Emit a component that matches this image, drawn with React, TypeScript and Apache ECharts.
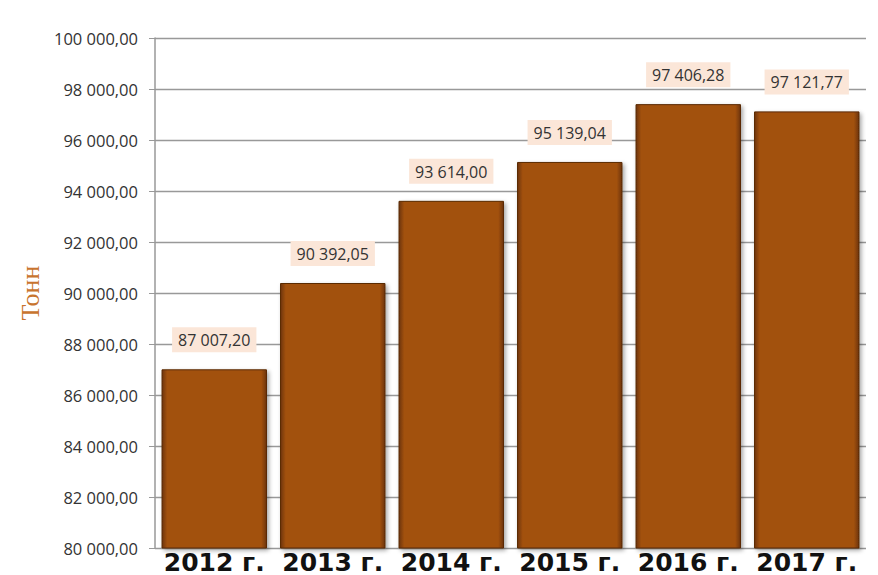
import React, { useEffect, useRef } from "react";
import * as echarts from "echarts";

const categories = ["2012 г.", "2013 г.", "2014 г.", "2015 г.", "2016 г.", "2017 г."];
const values = [87007.2, 90392.05, 93614.0, 95139.04, 97406.28, 97121.77];
const yMin = 80000;
const yMax = 100000;
const yStep = 2000;
const axisName = "Тонн";

function fmt(v: number): string {
  const [i, d] = v.toFixed(2).split(".");
  const int = i.replace(/\B(?=(\d{3})+(?!\d))/g, " ");
  return int + "," + d;
}

export default function App() {
  const ref = useRef<HTMLDivElement>(null);
  useEffect(() => {
    if (!ref.current) return;
    const chart = echarts.init(ref.current, undefined, { renderer: "svg" });
    chart.setOption({
      animation: false,
      grid: { left: 155, right: 12, top: 38, bottom: 27, containLabel: false },
      xAxis: {
        type: "category",
        data: categories,
        axisLine: { show: false },
        axisTick: { show: false },
        axisLabel: {
          color: "#111",
          fontFamily: "DejaVu Sans",
          fontWeight: "bold",
          fontSize: 25,
          lineHeight: 24,
          margin: 2,
          interval: 0,
        },
      },
      yAxis: {
        type: "value",
        min: yMin,
        max: yMax,
        interval: yStep,
        name: axisName,
        nameLocation: "middle",
        nameGap: 112,
        nameRotate: 90,
        nameTextStyle: { color: "#c8742e", fontFamily: "Liberation Serif", fontSize: 26 },
        axisLine: { show: true, lineStyle: { color: "#999", width: 1.5 } },
        axisTick: { show: true, length: 6, lineStyle: { color: "#999" } },
        splitLine: { lineStyle: { color: "#999", width: 1.3 } },
        axisLabel: {
          color: "#333",
          fontFamily: "Open Sans",
          fontSize: 16.5,
          margin: 17,
          formatter: (v: number) => fmt(v),
        },
      },
      series: [
        {
          type: "bar",
          data: values,
          barCategoryGap: "11%",
          itemStyle: {
            color: new echarts.graphic.LinearGradient(0, 0, 1, 0, [
              { offset: 0, color: "#6e3408" },
              { offset: 0.05, color: "#a2510f" },
              { offset: 0.95, color: "#a2510f" },
              { offset: 1, color: "#6e3408" },
            ]),
            borderColor: "#5a2a06",
            borderWidth: 1,
            shadowColor: "rgba(0,0,0,0.35)",
            shadowBlur: 4,
            shadowOffsetX: 2,
            shadowOffsetY: 2,
          },
          label: {
            show: true,
            position: "top",
            distance: 17,
            color: "#333",
            fontFamily: "Open Sans",
            fontSize: 16,
            backgroundColor: "#fbe6d8",
            padding: [5, 6, 4, 6],
            formatter: (p: any) => fmt(p.value),
          },
        },
      ],
    });
    return () => chart.dispose();
  }, []);
  return <div ref={ref} style={{ width: 878, height: 575, position: "absolute", left: 0, top: 0, background: "#fff" }} />;
}
